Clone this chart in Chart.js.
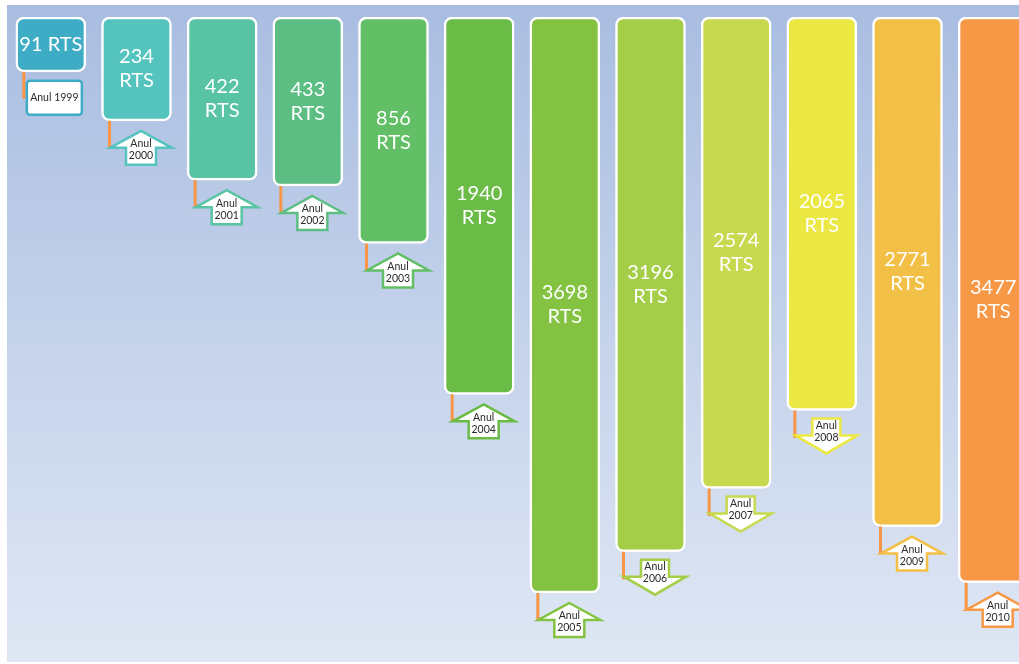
<!DOCTYPE html>
<html>
<head>
<meta charset="utf-8">
<title>RTS pe ani</title>
<script src="https://cdn.jsdelivr.net/npm/chart.js@4"></script>
<style>
    html, body { margin: 0; padding: 0; background: #fff; overflow: hidden; }
    #wrap { position: relative; width: 1036px; height: 664px; }
</style>
</head>
<body>
<div id="wrap"><canvas id="rtsChart"></canvas></div>
<script>
// data
const years = ['1999', '2000', '2001', '2002', '2003', '2004', '2005', '2006', '2007', '2008', '2009', '2010'];
const rtsValues = [91, 234, 422, 433, 856, 1940, 3698, 3196, 2574, 2065, 2771, 3477];
// drawn bar length, % of plot height (the picture is not to scale)
const barDepth = [8.5, 16.1, 25.3, 26.2, 35.1, 58.5, 89.3, 82.9, 73.1, 61.0, 79.0, 87.7];

// styles
const barColors = ['#3FACC6', '#55C3BE', '#58C4A4', '#5DBE84', '#62BF66', '#6ABC47',
    '#84C341', '#A5CE48', '#C6D94F', '#EBE843', '#F3C047', '#F69845'];
const calloutShape = ['box', 'up', 'up', 'up', 'up', 'up', 'up', 'down', 'down', 'down', 'up', 'up'];
const connectorColor = '#F79646';

document.addEventListener("DOMContentLoaded", function () {
    const ctx = document.getElementById('rtsChart').getContext('2d');

    const backdrop = {
        id: 'backdrop',
        beforeDraw(chart) {
            const c = chart.ctx;
            const g = c.createLinearGradient(0, 5, 0, 662);
            g.addColorStop(0, '#A9BDE1');
            g.addColorStop(1, '#DFE7F4');
            c.save();
            c.fillStyle = g;
            c.fillRect(7, 5, chart.width - 7, 657);
            c.restore();
        }
    };

    const callouts = {
        id: 'callouts',
        afterDatasetsDraw(chart) {
            const c = chart.ctx;
            const bars = chart.getDatasetMeta(0).data;
            c.save();
            bars.forEach(function (bar, i) {
                const top = Math.min(bar.y, bar.base);
                const b = Math.max(bar.y, bar.base);
                const left = bar.x - bar.width / 2;
                const col = barColors[i];

                // value label
                c.fillStyle = '#fff';
                c.font = '20px Lato, "Open Sans", sans-serif';
                c.textAlign = 'center';
                c.textBaseline = 'middle';
                const mid = (top + b) / 2;
                if (b - top < 70) {
                    c.fillText(rtsValues[i] + ' RTS', bar.x, mid);
                } else {
                    c.fillText(String(rtsValues[i]), bar.x, mid - 12);
                    c.fillText('RTS', bar.x, mid + 12);
                }

                const shape = calloutShape[i];
                const cx = bar.x + 4.5;

                // connector
                c.strokeStyle = connectorColor;
                c.lineWidth = 3;
                c.lineCap = 'butt';
                c.beginPath();
                if (shape === 'box') {
                    c.moveTo(left + 8, b);
                    c.lineTo(left + 8, b + 27);
                } else {
                    c.moveTo(left + 8, b);
                    c.lineTo(left + 8, b + 26);
                    c.lineTo(cx - 27, b + 26);
                }
                c.stroke();

                // shape
                c.fillStyle = '#fff';
                c.strokeStyle = col;
                c.lineWidth = 2.5;
                c.lineJoin = 'miter';
                c.beginPath();
                if (shape === 'box') {
                    c.roundRect(left + 11, b + 9, 55, 34, 3);
                } else if (shape === 'up') {
                    c.moveTo(cx, b + 10);
                    c.lineTo(cx + 31, b + 27);
                    c.lineTo(cx + 15, b + 27);
                    c.lineTo(cx + 15, b + 44);
                    c.lineTo(cx - 15, b + 44);
                    c.lineTo(cx - 15, b + 27);
                    c.lineTo(cx - 31, b + 27);
                    c.closePath();
                } else {
                    c.moveTo(cx - 14, b + 8);
                    c.lineTo(cx + 14, b + 8);
                    c.lineTo(cx + 14, b + 25);
                    c.lineTo(cx + 31, b + 25);
                    c.lineTo(cx, b + 43);
                    c.lineTo(cx - 31, b + 25);
                    c.lineTo(cx - 14, b + 25);
                    c.closePath();
                }
                c.fill();
                c.stroke();

                // callout text
                c.fillStyle = '#2b2b2b';
                c.font = '10.5px Lato, "Open Sans", sans-serif';
                if (shape === 'box') {
                    c.fillText('Anul ' + years[i], left + 38.5, b + 26);
                } else if (shape === 'up') {
                    c.fillText('Anul', cx, b + 23);
                    c.fillText(years[i], cx, b + 35);
                } else {
                    c.fillText('Anul', cx, b + 15);
                    c.fillText(years[i], cx, b + 27);
                }
            });
            c.restore();
        }
    };

    const data = {
        labels: years,
        datasets: [
            {
                label: 'RTS',
                data: barDepth,
                backgroundColor: barColors,
                borderColor: '#ffffff',
                borderWidth: 2.5,
                borderRadius: 8,
                borderSkipped: false,
                barThickness: 70
            }
        ]
    };

    const options = {
        responsive: true,
        maintainAspectRatio: false,
        animation: false,
        layout: {
            padding: { left: 8, right: 0, top: 17, bottom: 2 }
        },
        scales: {
            x: {
                display: false
            },
            y: {
                display: false,
                reverse: true,
                min: 0,
                max: 100
            }
        },
        plugins: {
            legend: { display: false },
            tooltip: { enabled: false }
        }
    };

    new Chart(ctx, {
        type: 'bar',
        data: data,
        options: options,
        plugins: [backdrop, callouts]
    });
});
</script>
</body>
</html>
